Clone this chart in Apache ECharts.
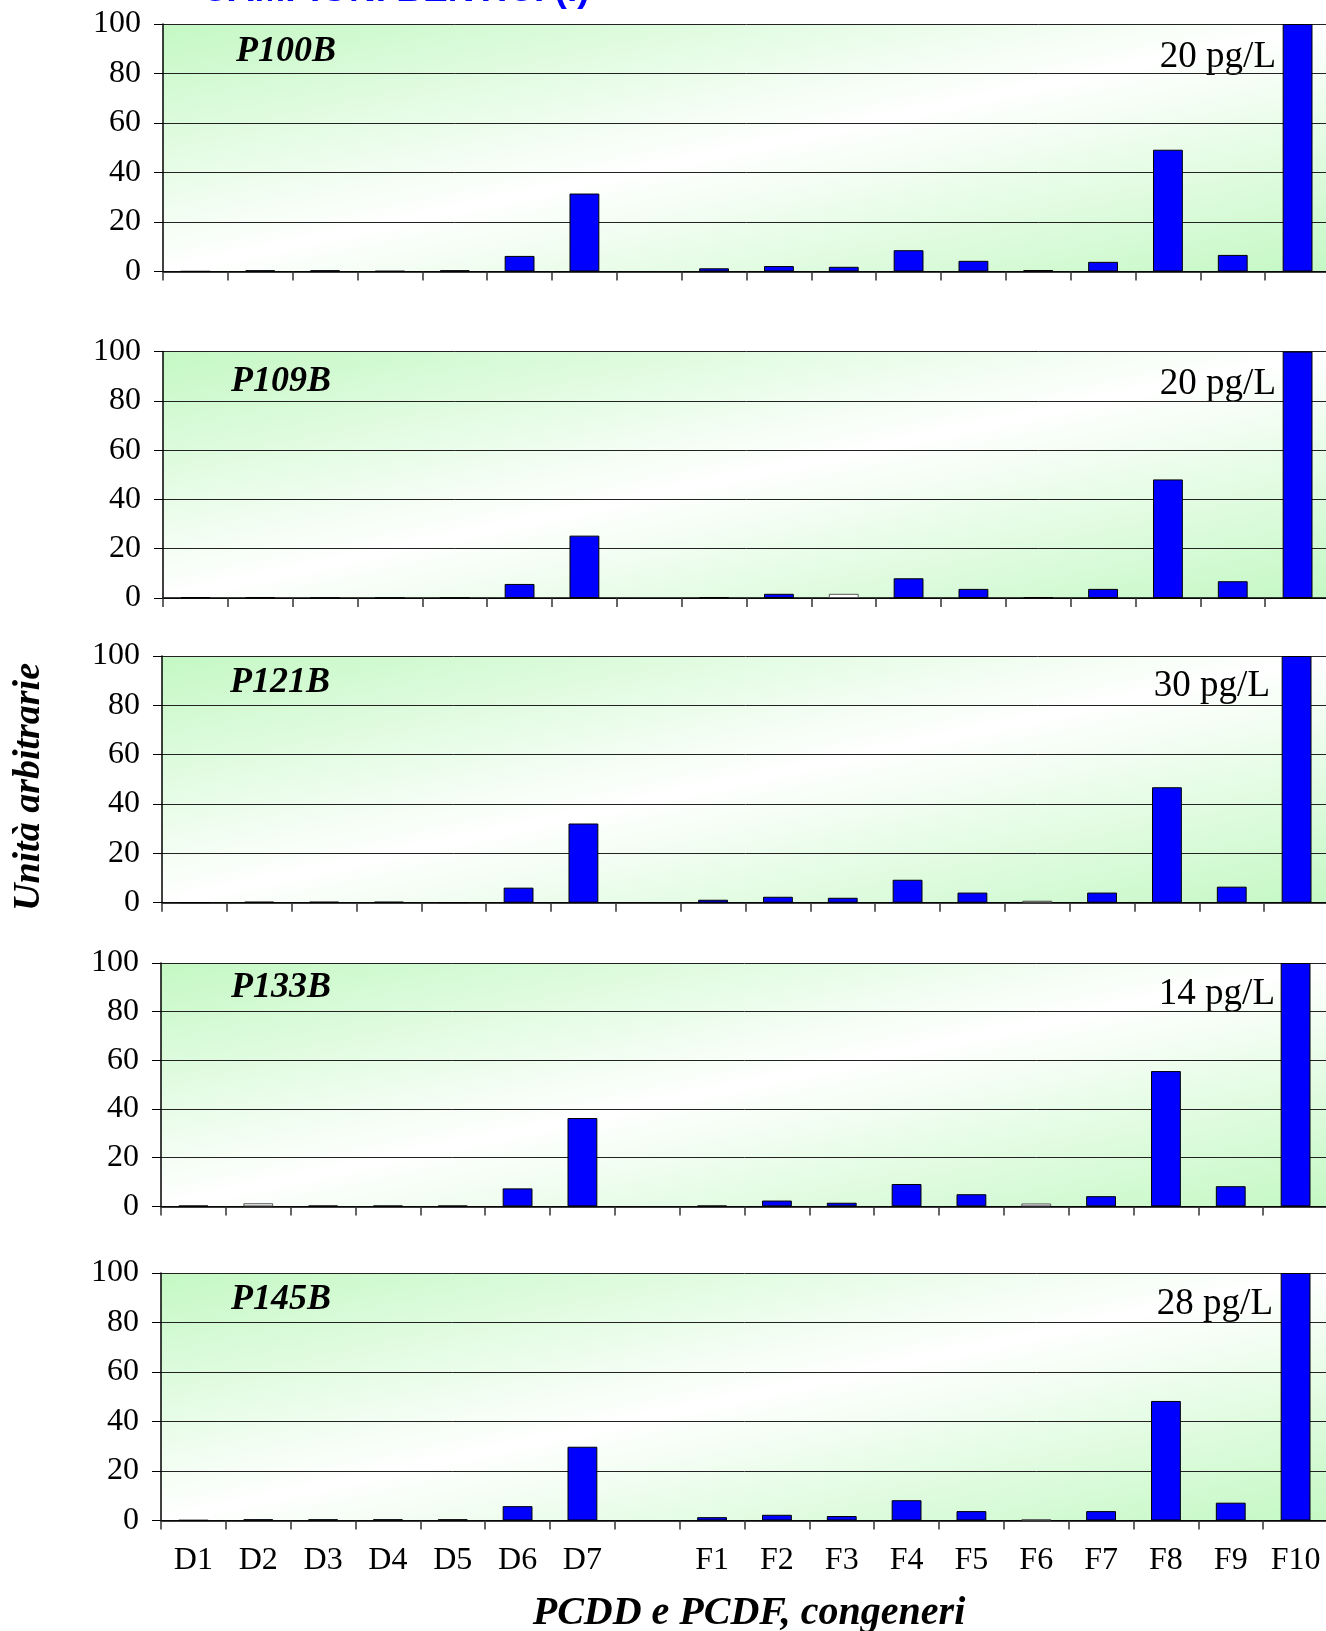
<!DOCTYPE html>
<html>
<head>
<meta charset="utf-8">
<script src="https://cdn.jsdelivr.net/npm/echarts@6/dist/echarts.min.js"></script>
<style>
html,body{margin:0;padding:0;background:#fff;overflow:hidden;}
#chart{width:1345px;height:1631px;}
</style>
</head>
<body>
<div id="chart"></div>
<script>
// ---- data ----
const categories = ['D1','D2','D3','D4','D5','D6','D7','','F1','F2','F3','F4','F5','F6','F7','F8','F9','F10'];
const samples = ['P100B','P109B','P121B','P133B','P145B'];
const concentrations = ['20 pg/L','20 pg/L','30 pg/L','14 pg/L','28 pg/L'];
const yTicks = [0,20,40,60,80,100];
const p100b = [0.1,0.5,0.5,0.2,0.5,6.3,31.5,null,1.3,2.2,1.9,8.6,4.3,0.6,3.9,49.2,6.7,100];
const p109b = [0.4,0.4,0,0,0,5.7,25.3,null,0.4,1.7,1.7,8.0,3.7,0.4,3.7,48.1,6.8,100];
const p121b = [0.1,0.4,0.4,0.4,0.1,6.1,32.1,null,1.2,2.4,2.0,9.3,4.1,0.8,4.1,46.8,6.5,100];
const p133b = [0.3,1.3,0.3,0.3,0.3,7.4,36.3,null,0.3,2.4,1.5,9.2,5.0,1.2,4.2,55.6,8.3,100];
const p145b = [0.15,0.5,0.5,0.5,0.5,5.8,29.8,null,1.35,2.3,1.8,8.2,3.8,0.5,3.8,48.3,7.2,100];
const seriesValues = [p100b, p109b, p121b, p133b, p145b];

// ---- styling / layout ----
const FONT = "'Liberation Serif','Times New Roman',serif";
const panels = [
  {top:24,   height:247.5, left:163, lab:[236,52],  conc:[1276,57]},
  {top:351.5,height:246.5, left:163, lab:[231,382], conc:[1276,384]},
  {top:656,  height:246.7, left:162, lab:[230,683], conc:[1270,686]},
  {top:963,  height:243.4, left:161, lab:[231,988], conc:[1275,994]},
  {top:1273, height:247.5, left:161, lab:[231,1300],conc:[1273,1304]}
];
// bars drawn unfilled (index by panel)
const hollowBars = {1:{10:'#ffffff'}, 2:{13:'#bbbbbb'}, 3:{1:'#ffffff',13:'#ffffff'}, 4:{13:'#bbbbbb'}};

const W = 1167;
function bg(h){
  const k = 2*W*h/(h*h+W*W);
  return {type:'linear', x:0, y:0, x2:k*h/W, y2:k*W/h,
    colorStops:[{offset:0,color:'#c4f8c4'},{offset:0.5,color:'#ffffff'},{offset:1,color:'#c4f8c4'}]};
}

const grids=[], xAxes=[], yAxes=[], series=[], graphics=[];
panels.forEach((p,i)=>{
  grids.push({left:p.left, top:p.top, width:W, height:p.height, show:true, borderWidth:0,
    outerBoundsMode:'none', containLabel:false, backgroundColor:bg(p.height)});
  const last = i===panels.length-1;
  xAxes.push({type:'category', gridIndex:i, data:categories, boundaryGap:true,
    axisLine:{show:true, lineStyle:{color:'#000', width:1.5}},
    axisTick:{show:true, length:9, inside:false, alignWithLabel:false, lineStyle:{color:'#333', width:1.5}},
    axisLabel:{show:last, interval:0, margin:24, color:'#000', fontFamily:FONT, fontSize:32},
    splitLine:{show:false}});
  yAxes.push({type:'value', gridIndex:i, min:yTicks[0], max:yTicks[yTicks.length-1], interval:yTicks[1]-yTicks[0],
    axisLine:{show:true, lineStyle:{color:'#000', width:1.5}},
    axisTick:{show:true, length:9, lineStyle:{color:'#000', width:1}},
    axisLabel:{margin:22, color:'#000', fontFamily:FONT, fontSize:32},
    splitLine:{show:true, lineStyle:{color:'#222', width:1}}});
  const hb = hollowBars[i] || {};
  series.push({type:'bar', xAxisIndex:i, yAxisIndex:i, barWidth:'46%', animation:false,
    data: seriesValues[i].map((v,j)=> hb[j] ? {value:v, itemStyle:{color:hb[j], borderColor:'#555'}} : v),
    itemStyle:{color:'#0000ff', borderColor:'#000', borderWidth:1}});
  graphics.push({type:'text', x:p.lab[0], y:p.lab[1], style:{text:samples[i], fill:'#000', font:"italic bold 36px "+FONT, textAlign:'left', textVerticalAlign:'middle'}});
  graphics.push({type:'text', x:p.conc[0], y:p.conc[1], style:{text:concentrations[i], fill:'#000', font:"37px "+FONT, textAlign:'right', textVerticalAlign:'middle'}});
});

graphics.push({type:'text', x:749, y:1614, style:{text:'PCDD e PCDF, congeneri', fill:'#000', font:"italic bold 40px "+FONT, textAlign:'center', textVerticalAlign:'middle'}});
graphics.push({type:'text', x:29, y:787, rotation:Math.PI/2, style:{text:'Unità arbitrarie', fill:'#000', font:"italic bold 38px "+FONT, textAlign:'center', textVerticalAlign:'middle'}});
graphics.push({type:'text', x:201, y:9, style:{text:'CAMPIONI BENTICI (I)', fill:'#0000ff', font:"bold 37px 'Liberation Sans',Arial,sans-serif", textAlign:'left', textVerticalAlign:'bottom'}});

const chart = echarts.init(document.getElementById('chart'), null, {renderer:'canvas'});
chart.setOption({animation:false, grid:grids, xAxis:xAxes, yAxis:yAxes, series:series, graphic:graphics});
</script>
</body>
</html>
